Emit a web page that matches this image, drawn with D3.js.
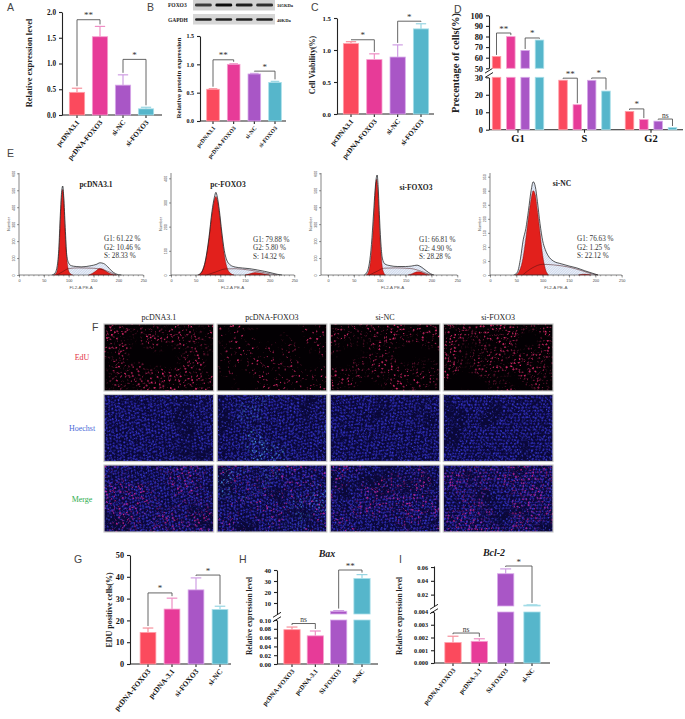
<!DOCTYPE html>
<html>
<head>
<meta charset="utf-8">
<script src="https://d3js.org/d3.v7.min.js"></script>
<style>
  body { margin: 0; background: #fff; }
  svg { display: block; }
</style>
</head>
<body>
<script>
// ---------------- data ----------------
var catsA = ["pcDNA3.1", "pcDNA-FOXO3", "si-NC", "si-FOXO3"];
var relExpr = [0.44, 1.52, 0.58, 0.12];
var relExprErr = [0.08, 0.20, 0.20, 0.03];
var protLevel = [0.56, 1.00, 0.83, 0.68];
var protErr = [0.01, 0.01, 0.01, 0.02];
var viability = [1.10, 0.85, 0.89, 1.33];
var viabilityErr = [0.03, 0.09, 0.19, 0.08];

var phases = ["G1", "S", "G2"];
var phaseGroups = ["pcDNA3.1", "pcDNA-FOXO3", "si-FOXO3", "si-NC"];
var g1Pct = [61.22, 79.88, 66.81, 76.63];
var sPct = [28.33, 14.32, 28.28, 22.12];
var g2Pct = [10.46, 5.80, 4.90, 1.25];

var catsG = ["pcDNA-FOXO3", "pcDNA-3.1", "si-FOXO3", "si-NC"];
var eduPos = [14.5, 25.2, 34.0, 25.0];
var eduErr = [2.0, 5.0, 5.5, 1.5];
var catsH = ["pcDNA-FOXO3", "pcDNA-3.1", "Si-FOXO3", "si-NC"];
var bax = [0.078, 0.064, 2.5, 32.3];
var baxErr = [0.006, 0.011, 0.6, 3.5];
var bcl2 = [0.0016, 0.0017, 0.0503, 0.0048];
var bcl2Err = [0.0005, 0.0002, 0.007, 0.0003];

// flow cytometry histograms, [channel, count]
var flowTitles = ["pcDNA3.1", "pc-FOXO3", "si-FOXO3", "si-NC"];
var flowYMax = [600, 400, 600, 350];
var flowYStep = [100, 100, 100, 50];
var flowG1 = [
  [[70,0],[75,12],[78,50],[81,170],[84,370],[86,470],[88,505],[90,440],[92,300],[95,140],[98,50],[102,12],[108,0]],
  [[56,0],[63,15],[70,60],[77,150],[83,250],[88,310],[91,325],[94,310],[98,255],[103,165],[108,85],[113,35],[120,8],[128,0]],
  [[74,0],[79,25],[83,100],[87,250],[90,410],[92,520],[94,565],[96,515],[98,395],[100,250],[103,110],[106,30],[111,0]],
  [[48,0],[55,12],[61,45],[67,115],[73,205],[78,270],[82,300],[86,285],[90,230],[95,150],[100,70],[105,22],[111,0]]
];
var flowG2 = [
  [[140,0],[148,10],[155,25],[162,38],[168,36],[175,22],[182,10],[190,2],[196,0]],
  [[150,0],[160,5],[170,10],[180,8],[190,4],[200,0]],
  [[155,0],[163,8],[170,17],[176,19],[183,13],[190,5],[196,0]],
  [[168,0],[178,3],[186,2],[192,0]]
];
var flowS = [
  [[76,0],[88,20],[100,38],[120,42],[150,40],[170,30],[185,14],[196,0]],
  [[72,0],[90,12],[110,25],[130,26],[160,20],[185,11],[205,3],[215,0]],
  [[80,0],[95,22],[108,40],[130,42],[160,38],[180,22],[195,5],[202,0]],
  [[62,0],[80,25],[100,38],[120,36],[150,28],[175,15],[195,3],[205,0]]
];
var flowTotal = [
  [[66,0],[72,10],[76,40],[80,150],[83,350],[86,500],[88,525],[90,460],[93,280],[96,120],[100,70],[105,55],[115,50],[125,48],[135,50],[145,55],[155,62],[163,72],[170,68],[178,50],[186,25],[194,8],[200,2],[206,0]],
  [[54,0],[62,12],[70,62],[77,155],[83,262],[88,322],[91,342],[94,322],[98,268],[103,178],[108,102],[113,62],[120,42],[130,33],[145,29],[160,26],[175,21],[190,15],[205,8],[215,3],[225,0]],
  [[70,0],[76,20],[80,70],[84,180],[88,360],[91,500],[93,565],[95,590],[97,520],[99,380],[102,200],[105,100],[110,65],[120,55],[135,50],[150,50],[162,53],[172,58],[180,48],[190,25],[198,8],[205,0]],
  [[45,0],[52,10],[58,60],[63,125],[68,165],[73,230],[78,300],[82,332],[86,315],[90,262],[95,182],[100,122],[105,90],[110,70],[120,50],[135,40],[150,32],[165,25],[180,15],[195,6],[205,0]]
];

// EdU staining panel
var tileCols = ["pcDNA3.1", "pcDNA-FOXO3", "si-NC", "si-FOXO3"];
var tileRows = ["EdU", "Hoechst", "Merge"];
var rowColors = ["#e2323f", "#4a6ad8", "#2fae4f"];
var eduThreshold = [0.5, 0.565, 0.515, 0.485];   // lower = more EdU+ nuclei
var cyanThreshold = [0, 0.5, 0, 0];              // cyan-ish nuclei, 0 = none

// ---------------- setup ----------------
var SERIF = "'Liberation Serif','Times New Roman',serif";
var SANS = "'Liberation Sans',Arial,sans-serif";
var barColors = ["#fb4a5d", "#e73b98", "#a956c6", "#56b6cb"];
var edgeColors = ["#ff9ea9", "#f5a0cf", "#d9aaea", "#a9dfe9"];
var errColors = ["#f6909c", "#ee8ec4", "#cf9ee3", "#98d5e2"];

var svg = d3.select("body").append("svg")
  .attr("width", 685).attr("height", 719)
  .attr("font-family", SERIF);
svg.append("rect").attr("width", 685).attr("height", 719).attr("fill", "#fff");
var defs = svg.append("defs");

function letter(t, x, y) {
  svg.append("text").attr("x", x).attr("y", y).attr("font-family", SANS)
    .attr("font-size", 10.5).attr("fill", "#444").text(t);
}

function makeSegs(list) {
  return list.map(function(s) {
    return { lo: s.lo, hi: s.hi, ticks: s.ticks, fmt: s.fmt,
             y: d3.scaleLinear().domain([s.lo, s.hi]).range(s.r) };
  });
}
function segFor(segs, v) {
  var k = 0;
  for (var i = 1; i < segs.length; i++) if (v > segs[i - 1].hi) k = i;
  return segs[k];
}
function yOf(segs, v) {
  var sg = segFor(segs, v);
  return sg.y(Math.min(v, sg.hi));
}

function styleAxis(ax, fs) {
  ax.attr("font-family", null).attr("font-size", null);
  ax.select(".domain").attr("stroke", "#222").attr("stroke-width", 1.1);
  ax.selectAll(".tick line").attr("stroke", "#222").attr("stroke-width", 1.1);
  ax.selectAll(".tick text").attr("font-family", SERIF).attr("font-weight", "bold")
    .attr("font-size", fs).attr("fill", "#111");
}

function drawYAxis(g, segs, x0, fs) {
  segs.forEach(function(sg, k) {
    var ax = g.append("g").attr("transform", "translate(" + x0 + ",0)")
      .call(d3.axisLeft(sg.y).tickValues(sg.ticks).tickFormat(d3.format(sg.fmt))
        .tickSize(3).tickSizeOuter(0));
    styleAxis(ax, fs);
    if (k > 0) {
      var ym = (segs[k - 1].y.range()[1] + sg.y.range()[0]) / 2;
      [-2.2, 2.2].forEach(function(dy) {
        g.append("line").attr("x1", x0 - 4).attr("x2", x0 + 4)
          .attr("y1", ym + dy + 2.5).attr("y2", ym + dy - 2.5)
          .attr("stroke", "#222").attr("stroke-width", 1);
      });
    }
  });
}

function drawBar(g, segs, bx, bw, v, e, i) {
  if (e > 0) {
    var sg = segFor(segs, v), cx = bx + bw / 2;
    g.append("line").attr("x1", cx).attr("x2", cx)
      .attr("y1", sg.y(v)).attr("y2", sg.y(Math.min(v + e, sg.hi)))
      .attr("stroke", errColors[i]).attr("stroke-width", 1.2);
    g.append("line").attr("x1", cx - bw * 0.32).attr("x2", cx + bw * 0.32)
      .attr("y1", sg.y(Math.min(v + e, sg.hi))).attr("y2", sg.y(Math.min(v + e, sg.hi)))
      .attr("stroke", errColors[i]).attr("stroke-width", 1.2);
  }
  segs.forEach(function(sg, k) {
    if (k > 0 && v <= segs[k - 1].hi) return;
    var top = Math.min(v, sg.hi);
    if (top <= sg.lo) return;
    g.append("rect").attr("x", bx + 0.4).attr("y", sg.y(top))
      .attr("width", bw - 0.8).attr("height", Math.max(0.6, sg.y(sg.lo) - sg.y(top)))
      .attr("fill", barColors[i]).attr("stroke", edgeColors[i]).attr("stroke-width", 0.8);
  });
}

function drawSig(g, xa, xb, yv, ya, yb, txt) {
  g.append("path")
    .attr("d", "M" + xa + "," + Math.max(ya, yv) + "V" + yv + "H" + xb + "V" + Math.max(yb, yv))
    .attr("fill", "none").attr("stroke", "#555").attr("stroke-width", 0.9);
  g.append("text").attr("x", (xa + xb) / 2).attr("y", yv - 1.5)
    .attr("text-anchor", "middle").attr("font-family", SERIF)
    .attr("font-size", txt === "ns" ? 7.5 : 9).attr("fill", "#333").text(txt);
}

function barPanel(o) {
  var g = svg.append("g");
  var n = o.cats.length, step = (o.c1 - o.c0) / (n - 1);
  var x = d3.scaleBand().domain(o.cats).range([o.c0 - step / 2, o.c1 + step / 2])
    .paddingInner(o.pad).paddingOuter(o.pad / 2);
  var segs = makeSegs(o.segs);
  var base = segs[0].y.range()[0];
  drawYAxis(g, segs, o.x0, o.fs);
  g.append("line").attr("x1", o.x0).attr("x2", o.xEnd).attr("y1", base).attr("y2", base)
    .attr("stroke", "#222").attr("stroke-width", 1.1);
  var xa = g.append("g").attr("transform", "translate(0," + base + ")")
    .call(d3.axisBottom(x).tickSize(3).tickSizeOuter(0));
  xa.attr("font-family", null).attr("font-size", null);
  xa.select(".domain").remove();
  xa.selectAll(".tick line").attr("stroke", "#222").attr("stroke-width", 1.1);
  xa.selectAll(".tick text").attr("font-family", SERIF).attr("font-weight", "bold")
    .attr("font-size", o.xfs).attr("fill", "#111").attr("text-anchor", "end")
    .attr("y", 0).attr("dy", "0.35em").attr("transform", "translate(1,6) rotate(-50)");

  var bw = x.bandwidth();
  o.vals.forEach(function(v, i) {
    drawBar(g, segs, x(o.cats[i]), bw, v, o.errs[i], i);
  });
  o.sig.forEach(function(s) {
    var a = s[0], b = s[1];
    drawSig(g, x(o.cats[a]) + bw / 2, x(o.cats[b]) + bw / 2, yOf(segs, s[2]),
      yOf(segs, o.vals[a] + o.errs[a]) - 2, yOf(segs, o.vals[b] + o.errs[b]) - 2, s[3]);
  });
  g.append("text").attr("transform", "translate(" + o.lx + "," + o.ly + ") rotate(-90)")
    .attr("text-anchor", "middle").attr("font-weight", "bold")
    .attr("font-size", o.lfs).attr("fill", "#222").text(o.label);
  if (o.title) {
    g.append("text").attr("x", o.title[1]).attr("y", o.title[2]).attr("text-anchor", "middle")
      .attr("font-weight", "bold").attr("font-style", "italic").attr("font-size", 10)
      .attr("fill", "#222").text(o.title[0]);
  }
}

// ---------------- A ----------------
letter("A", 7, 11);
barPanel({ cats: catsA, vals: relExpr, errs: relExprErr, c0: 77, c1: 146, pad: 0.3,
  x0: 62, xEnd: 162, fs: 7.2, xfs: 7.2,
  segs: [{ lo: 0, hi: 2, r: [115, 12], ticks: [0, 0.5, 1, 1.5, 2], fmt: ".1f" }],
  sig: [[0, 1, 1.85, "**"], [2, 3, 1.08, "*"]],
  label: "Relative expression level", lx: 32, ly: 63, lfs: 8.5 });

// ---------------- B ----------------
letter("B", 147, 11);
(function() {
  var lane = d3.scaleBand().domain(catsA).range([194, 274]).paddingInner(0.18).paddingOuter(0.05);
  defs.append("filter").attr("id", "blotblur").append("feGaussianBlur").attr("stdDeviation", 0.45);
  svg.append("rect").attr("x", 193).attr("y", 0).attr("width", 82).attr("height", 10.5).attr("fill", "#d2d2d2");
  svg.append("rect").attr("x", 193).attr("y", 14).attr("width", 82).attr("height", 10.5).attr("fill", "#d6d6d6");
  catsA.forEach(function(c, i) {
    svg.append("rect").attr("x", lane(c)).attr("y", 3.4).attr("width", lane.bandwidth())
      .attr("height", 3.2).attr("rx", 1.4).attr("fill", "#111")
      .attr("opacity", 0.45 + 0.55 * protLevel[i]).attr("filter", "url(#blotblur)");
    svg.append("rect").attr("x", lane(c)).attr("y", 18.3).attr("width", lane.bandwidth())
      .attr("height", 2.4).attr("rx", 1.2).attr("fill", "#111").attr("opacity", 0.9)
      .attr("filter", "url(#blotblur)");
  });
  var lab = [["FOXO3", 168, 7], ["GAPDH", 168, 21.5]];
  lab.forEach(function(l) {
    svg.append("text").attr("x", l[1]).attr("y", l[2]).attr("font-size", 5.5)
      .attr("font-weight", "bold").attr("fill", "#222").text(l[0]);
  });
  [["105KDa", 277, 7], ["40KDa", 277, 21.5]].forEach(function(l) {
    svg.append("text").attr("x", l[1]).attr("y", l[2]).attr("font-size", 4.6)
      .attr("font-weight", "bold").attr("fill", "#222").text(l[0]);
  });
})();
barPanel({ cats: catsA, vals: protLevel, errs: protErr, c0: 213, c1: 275, pad: 0.35,
  x0: 200, xEnd: 286, fs: 6, xfs: 5.8,
  segs: [{ lo: 0, hi: 1.5, r: [121, 36], ticks: [0, 0.5, 1, 1.5], fmt: ".1f" }],
  sig: [[0, 1, 1.08, "**"], [2, 3, 0.88, "*"]],
  label: "Relative protein expression", lx: 181, ly: 78, lfs: 7 });

// ---------------- C ----------------
letter("C", 311, 11);
barPanel({ cats: catsA, vals: viability, errs: viabilityErr, c0: 351, c1: 421, pad: 0.31,
  x0: 337, xEnd: 434, fs: 6.8, xfs: 7.2,
  segs: [{ lo: 0, hi: 1.5, r: [114, 18], ticks: [0, 0.5, 1, 1.5], fmt: ".1f" }],
  sig: [[0, 1, 1.16, "*"], [2, 3, 1.45, "*"]],
  label: "Cell Viability(%)", lx: 315, ly: 65, lfs: 8 });

// ---------------- D ----------------
letter("D", 454, 13);
(function() {
  var g = svg.append("g");
  var segs = makeSegs([
    { lo: 0, hi: 30, r: [129.7, 77.3], ticks: [0, 10, 20, 30], fmt: "d" },
    { lo: 50, hi: 100, r: [68.3, 15.3], ticks: [50, 60, 70, 80, 90, 100], fmt: "d" }
  ]);
  var x0 = d3.scaleBand().domain(phases).range([484.75, 684.25]);
  var xi = d3.scaleBand().domain(phaseGroups).range([0, 57.3]).paddingInner(0.35).paddingOuter(0.175);
  var phaseVals = [g1Pct, sPct, g2Pct];
  drawYAxis(g, segs, 489, 8.4);
  g.append("line").attr("x1", 489).attr("x2", 683).attr("y1", 129.7).attr("y2", 129.7)
    .attr("stroke", "#222").attr("stroke-width", 1.1);
  var xa = g.append("g").attr("transform", "translate(0,129.7)")
    .call(d3.axisBottom(x0).tickSize(3).tickSizeOuter(0));
  xa.attr("font-family", null).attr("font-size", null);
  xa.select(".domain").remove();
  xa.selectAll(".tick line").attr("stroke", "#222").attr("stroke-width", 1.1);
  xa.selectAll(".tick text").attr("font-family", SERIF).attr("font-weight", "bold")
    .attr("font-size", 10.5).attr("fill", "#111").attr("y", 5);
  function gx(pi) { return x0(phases[pi]) + x0.bandwidth() / 2 - 28.65; }
  phaseVals.forEach(function(vals, pi) {
    vals.forEach(function(v, i) {
      drawBar(g, segs, gx(pi) + xi(phaseGroups[i]), xi.bandwidth(), v, 0, i);
    });
  });
  var dSig = [[0, 0, 1, 83.3, "**"], [0, 2, 3, 78.6, "*"], [1, 0, 1, 29.5, "**"],
              [1, 2, 3, 29.6, "*"], [2, 0, 1, 11.9, "*"], [2, 2, 3, 6.1, "ns"]];
  var bw = xi.bandwidth();
  dSig.forEach(function(s) {
    var vals = phaseVals[s[0]];
    drawSig(g, gx(s[0]) + xi(phaseGroups[s[1]]) + bw / 2, gx(s[0]) + xi(phaseGroups[s[2]]) + bw / 2,
      yOf(segs, s[3]), yOf(segs, vals[s[1]]) - 1.5, yOf(segs, vals[s[2]]) - 1.5, s[4]);
  });
  g.append("text").attr("transform", "translate(459,63) rotate(-90)").attr("text-anchor", "middle")
    .attr("font-weight", "bold").attr("font-size", 10.5).attr("fill", "#222")
    .text("Precentage of cells(%)");
})();

// ---------------- E ----------------
letter("E", 7, 157);
(function() {
  var pat = defs.append("pattern").attr("id", "hatch").attr("patternUnits", "userSpaceOnUse")
    .attr("width", 1.8).attr("height", 1.8).attr("patternTransform", "rotate(45)");
  pat.append("rect").attr("width", 1.8).attr("height", 1.8).attr("fill", "#eef2fa");
  pat.append("line").attr("x1", 0).attr("y1", 0).attr("x2", 0).attr("y2", 1.8)
    .attr("stroke", "#6f8fc4").attr("stroke-width", 0.45);

  var fx0 = [19, 171, 328, 490], fx1 = [143.3, 294.3, 457.3, 621.7];
  var fAxis = [19, 171, 321, 490], fTop = [173.3, 178.3, 173.3, 176.7];
  var titleXY = [[96, 187], [228, 187], [416, 190], [562, 186]];
  var statXY = [[104, 241], [253, 241.5], [419, 242], [577, 241]];
  var yb = 275;
  flowTitles.forEach(function(t, i) {
    var g = svg.append("g");
    var x = d3.scaleLinear().domain([0, 250]).range([fx0[i], fx1[i]]);
    var y = d3.scaleLinear().domain([0, flowYMax[i]]).range([yb, fTop[i]]);
    var area = d3.area().x(function(d) { return x(d[0]); }).y0(yb)
      .y1(function(d) { return y(d[1]); }).curve(d3.curveMonotoneX);
    var line = d3.line().x(function(d) { return x(d[0]); })
      .y(function(d) { return y(d[1]); }).curve(d3.curveMonotoneX);
    g.append("path").attr("d", area(flowTotal[i])).attr("fill", "url(#hatch)");
    g.append("path").attr("d", area(flowG1[i])).attr("fill", "#e2201c")
      .attr("stroke", "#6d0000").attr("stroke-width", 0.4);
    g.append("path").attr("d", area(flowG2[i])).attr("fill", "#e2201c")
      .attr("stroke", "#6d0000").attr("stroke-width", 0.4);
    g.append("path").attr("d", line(flowS[i])).attr("fill", "none")
      .attr("stroke", "#4a1010").attr("stroke-width", 0.5);
    g.append("path").attr("d", line(flowTotal[i])).attr("fill", "none")
      .attr("stroke", "#111").attr("stroke-width", 0.7);

    // axes
    g.append("line").attr("x1", fAxis[i]).attr("x2", fAxis[i]).attr("y1", yb).attr("y2", 173)
      .attr("stroke", "#333").attr("stroke-width", 0.6);
    g.append("line").attr("x1", fAxis[i]).attr("x2", x(250)).attr("y1", yb).attr("y2", yb)
      .attr("stroke", "#333").attr("stroke-width", 0.6);
    var ya = g.append("g").attr("transform", "translate(" + fAxis[i] + ",0)")
      .call(d3.axisLeft(y).tickValues(d3.range(0, flowYMax[i] + 1, flowYStep[i])).tickSize(2).tickSizeOuter(0));
    ya.select(".domain").remove();
    ya.attr("font-family", null).attr("font-size", null);
    ya.selectAll(".tick line").attr("stroke", "#333").attr("stroke-width", 0.5);
    ya.selectAll(".tick text").attr("font-family", SANS).attr("font-size", 3.6).attr("fill", "#444")
      .attr("x", 0).attr("dy", 0).attr("text-anchor", "middle")
      .attr("transform", "translate(-4,0) rotate(-90)");
    g.selectAll(".minor").data(d3.range(0, 251, 10)).enter().append("line")
      .attr("x1", function(d) { return x(d); }).attr("x2", function(d) { return x(d); })
      .attr("y1", yb).attr("y2", yb + 1.3).attr("stroke", "#333").attr("stroke-width", 0.4);
    var xa = g.append("g").attr("transform", "translate(0," + yb + ")")
      .call(d3.axisBottom(x).tickValues([0, 50, 100, 150, 200, 250]).tickSize(2.5).tickSizeOuter(0));
    xa.select(".domain").remove();
    xa.attr("font-family", null).attr("font-size", null);
    xa.selectAll(".tick line").attr("stroke", "#333").attr("stroke-width", 0.5);
    xa.selectAll(".tick text").attr("font-family", SANS).attr("font-size", 3.8).attr("fill", "#444").attr("y", 4);
    g.append("text").attr("x", x(125)).attr("y", 289).attr("text-anchor", "middle")
      .attr("font-family", SANS).attr("font-size", 4.4).attr("fill", "#555").text("FL2-A PE-A");
    g.append("text").attr("transform", "translate(" + (fAxis[i] - 9) + ",224) rotate(-90)")
      .attr("text-anchor", "middle").attr("font-family", SANS).attr("font-size", 4)
      .attr("fill", "#555").text("Number");

    g.append("text").attr("x", titleXY[i][0]).attr("y", titleXY[i][1]).attr("text-anchor", "middle")
      .attr("font-weight", "bold").attr("font-size", 7.5).attr("fill", "#222").text(t);
    var lines = ["G1: " + g1Pct[i].toFixed(2) + " %", "G2: " + g2Pct[i].toFixed(2) + " %",
                 "S: " + sPct[i].toFixed(2) + " %"];
    lines.forEach(function(s, k) {
      g.append("text").attr("x", statXY[i][0]).attr("y", statXY[i][1] + k * 8.5)
        .attr("font-size", 7.2).attr("fill", "#333").text(s);
    });
  });
})();

// ---------------- F ----------------
(function() {
  letter("F", 92, 331);
  // a small irregular cell of nuclei used as a texture; masks pick which ones show
  var nucleusCell = [[1, 1], [5, 2.2], [9.2, 0.8], [2.8, 4.3], [7, 4.8], [11, 3.6],
                     [0.8, 7.4], [4.8, 7.9], [9, 7.2], [2.6, 9.8], [6.9, 9.6], [10.9, 10.1]];
  function nucleiPattern(id, color, rot, r) {
    var p = defs.append("pattern").attr("id", id).attr("patternUnits", "userSpaceOnUse")
      .attr("width", 12).attr("height", 11.2).attr("patternTransform", "rotate(" + rot + ")");
    nucleusCell.forEach(function(d) {
      p.append("circle").attr("cx", d[0]).attr("cy", d[1]).attr("r", r).attr("fill", color);
    });
  }
  function maskFilter(id, seed, thr, cluster) {
    var f = defs.append("filter").attr("id", id).attr("x", 0).attr("y", 0)
      .attr("width", 1).attr("height", 1).attr("color-interpolation-filters", "sRGB");
    f.append("feTurbulence").attr("type", "fractalNoise").attr("baseFrequency", 0.32)
      .attr("numOctaves", 1).attr("seed", seed).attr("result", "n");
    f.append("feColorMatrix").attr("in", "n").attr("type", "matrix")
      .attr("values", "0 0 0 0 0 0 0 0 0 0 0 0 0 0 0 12 0 0 0 " + (-12 * thr)).attr("result", "m");
    f.append("feComposite").attr("in", "SourceGraphic").attr("in2", "m").attr("operator", "in").attr("result", "s1");
    if (cluster) {
      f.append("feTurbulence").attr("type", "fractalNoise").attr("baseFrequency", cluster[0])
        .attr("numOctaves", 2).attr("seed", seed + 70).attr("result", "cn");
      f.append("feColorMatrix").attr("in", "cn").attr("type", "matrix")
        .attr("values", "0 0 0 0 0 0 0 0 0 0 0 0 0 0 0 " + cluster[2] + " 0 0 0 " + (-cluster[2] * cluster[1]))
        .attr("result", "cm");
      f.append("feComposite").attr("in", "s1").attr("in2", "cm").attr("operator", "in");
    }
  }
  var cx = d3.scaleBand().domain(tileCols).range([104, 553]).paddingInner(0.03);
  var ry = d3.scaleBand().domain(tileRows).range([324, 532]).paddingInner(0.05);
  tileCols.forEach(function(col, c) {
    var edu = { color: "#ee2a72", rot: 17 + c * 11, r: 1.0, seed: 11 + c, thr: eduThreshold[c], cluster: [0.035, 0.32, 4] };
    var blue1 = { color: "#2d29bc", rot: 33 + c * 7, r: 0.95, seed: 21 + c, thr: 0.34, cluster: [0.03, 0.28, 8] };
    var blue2 = { color: "#3d42e2", rot: 71 + c * 5, r: 0.8, seed: 31 + c, thr: 0.46 };
    var cyan = cyanThreshold[c] ? [{ color: "#4da6ee", rot: 8, r: 0.85, seed: 41 + c, thr: cyanThreshold[c], cluster: [0.025, 0.5, 6] }] : [];
    var mag = { color: "#d4229a", rot: edu.rot, r: 0.95, seed: edu.seed, thr: eduThreshold[c], cluster: edu.cluster };
    var rowLayers = [[edu], [blue1, blue2].concat(cyan), [blue1, blue2].concat(cyan, [mag])];
    var rowBg = ["#030003", "#0a0838", "#0a0838"];
    tileRows.forEach(function(row, r) {
      var tx = cx(col), ty = ry(row), tw = cx.bandwidth(), th = ry.bandwidth();
      svg.append("rect").attr("x", tx).attr("y", ty).attr("width", tw).attr("height", th).attr("fill", rowBg[r]);
      rowLayers[r].forEach(function(L, k) {
        var pid = "np" + r + c + k, fid = "nf" + r + c + k;
        nucleiPattern(pid, L.color, L.rot, L.r);
        maskFilter(fid, L.seed, L.thr, L.cluster);
        svg.append("rect").attr("x", tx).attr("y", ty).attr("width", tw).attr("height", th)
          .attr("fill", "url(#" + pid + ")").attr("filter", "url(#" + fid + ")");
      });
      svg.append("rect").attr("x", tx).attr("y", ty).attr("width", tw).attr("height", th)
        .attr("fill", "none").attr("stroke", "#c8c8c8").attr("stroke-width", 1.2);
    });
    svg.append("text").attr("x", cx(col) + cx.bandwidth() / 2).attr("y", 320).attr("text-anchor", "middle")
      .attr("font-size", 8).attr("fill", "#222").text(col);
  });
  tileRows.forEach(function(row, r) {
    svg.append("text").attr("x", 82).attr("y", ry(row) + ry.bandwidth() / 2 + 3).attr("text-anchor", "middle")
      .attr("font-size", 8).attr("fill", rowColors[r]).text(row);
  });
})();

// ---------------- G ----------------
letter("G", 74, 563);
barPanel({ cats: catsG, vals: eduPos, errs: eduErr, c0: 148, c1: 220, pad: 0.31,
  x0: 130, xEnd: 231, fs: 8.2, xfs: 7.5,
  segs: [{ lo: 0, hi: 50, r: [664, 555], ticks: [0, 10, 20, 30, 40, 50], fmt: "d" }],
  sig: [[0, 1, 32.6, "*"], [2, 3, 40.8, "*"]],
  label: "EDU positive cells(%)", lx: 112, ly: 610, lfs: 8 });

// ---------------- H ----------------
letter("H", 239, 563);
barPanel({ cats: catsH, vals: bax, errs: baxErr, c0: 292, c1: 362, pad: 0.27,
  x0: 277, xEnd: 378, fs: 6.6, xfs: 6.6,
  segs: [{ lo: 0, hi: 0.1, r: [664, 620], ticks: [0, 0.02, 0.04, 0.06, 0.08, 0.1], fmt: ".2f" },
         { lo: 0, hi: 40, r: [614, 570], ticks: [10, 20, 30, 40], fmt: "d" }],
  sig: [[0, 1, 0.092, "ns"], [2, 3, 40, "**"]],
  label: "Relative expression level", lx: 252, ly: 616, lfs: 7.5,
  title: ["Bax", 327, 557] });

// ---------------- I ----------------
letter("I", 399, 563);
barPanel({ cats: catsH, vals: bcl2, errs: bcl2Err, c0: 453, c1: 532, pad: 0.35,
  x0: 434, xEnd: 550, fs: 6.2, xfs: 6.6,
  segs: [{ lo: 0, hi: 0.004, r: [663, 612], ticks: [0, 0.001, 0.002, 0.003, 0.004], fmt: ".3f" },
         { lo: 0.0035, hi: 0.0615, r: [606, 566], ticks: [0.02, 0.04, 0.06], fmt: ".2f" }],
  sig: [[0, 1, 0.00235, "ns"], [2, 3, 0.0615, "*"]],
  label: "Relative expression level", lx: 402, ly: 616, lfs: 7.5,
  title: ["Bcl-2", 494, 556] });
</script>
</body>
</html>
